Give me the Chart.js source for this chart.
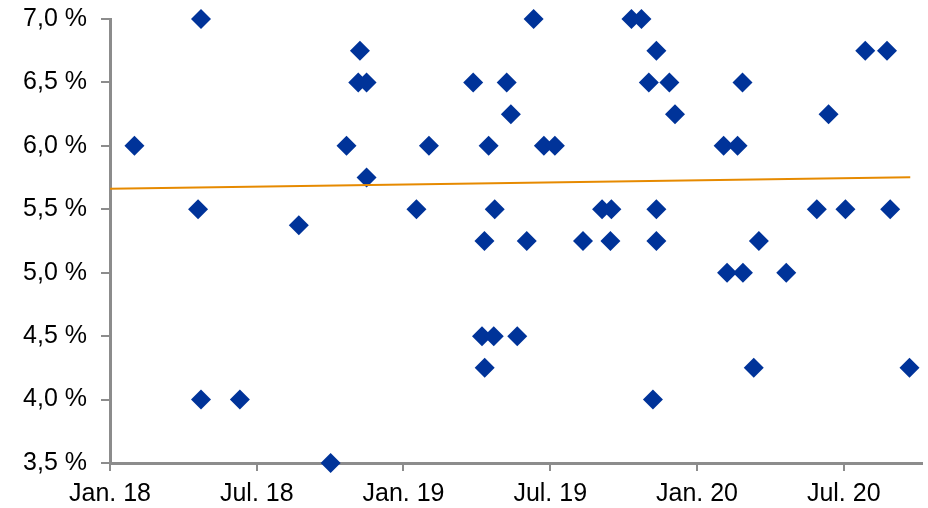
<!DOCTYPE html>
<html>
<head>
<meta charset="utf-8">
<script src="https://cdn.jsdelivr.net/npm/chart.js@4"></script>
<style>
  html, body { margin: 0; padding: 0; background: #ffffff; }
  #wrap { width: 928px; height: 508px; position: relative; }
</style>
</head>
<body>
<div id="wrap"><canvas id="chart" width="928" height="508"></canvas></div>
<script>
// x values are months since January 2018 (0 = Jan. 18, 6 = Jul. 18, ...)
const obsMonths = [
  1.0, 3.72, 3.60, 3.72, 5.31, 7.72, 9.02, 9.67, 10.22, 10.15,
  10.49, 10.49, 12.53, 13.04, 14.85, 15.31, 15.21, 15.32, 15.48, 15.69,
  15.73, 16.22, 16.39, 16.65, 17.04, 17.32, 17.74, 18.19, 19.34, 20.12,
  20.50, 20.46, 21.32, 21.73, 22.03, 22.34, 22.20, 22.34, 22.34, 22.87,
  23.10, 25.09, 25.23, 25.66, 25.86, 25.88, 26.32, 26.53, 27.65, 28.90,
  29.38, 30.07, 30.88, 31.77, 31.90, 32.69
];
// observed rates in percent
const obsRates = [
  6.00, 7.00, 5.50, 4.00, 4.00, 5.375, 3.50, 6.00, 6.75, 6.50,
  6.50, 5.75, 5.50, 6.00, 6.50, 5.25, 4.50, 4.25, 6.00, 4.50,
  5.50, 6.50, 6.25, 4.50, 5.25, 7.00, 6.00, 6.00, 5.25, 5.50,
  5.50, 5.25, 7.00, 7.00, 6.50, 6.75, 4.00, 5.50, 5.25, 6.50,
  6.25, 6.00, 5.00, 6.00, 6.50, 5.00, 4.25, 5.25, 5.00, 5.50,
  6.25, 5.50, 6.75, 6.75, 5.50, 4.25
];
// linear trend, start and end
const trendMonths = [0, 32.72];
const trendRates = [5.662, 5.752];

const xTickMonths = [0, 6, 12, 18, 24, 30];
const xTickLabels = ['Jan. 18', 'Jul. 18', 'Jan. 19', 'Jul. 19', 'Jan. 20', 'Jul. 20'];
const yTickValues = [3.5, 4.0, 4.5, 5.0, 5.5, 6.0, 6.5, 7.0];

const axisGrey = '#8c8c8c';
const labelFont = { family: "'Liberation Sans', Arial, sans-serif", size: 25 };

// keep the plot area fixed: no extra room reserved for overhanging labels
function clearPadding(scale) {
  scale.paddingTop = 0;
  scale.paddingBottom = 0;
  scale.paddingLeft = 0;
  scale.paddingRight = 0;
}

new Chart(document.getElementById('chart'), {
  type: 'scatter',
  data: {
    datasets: [
      {
        type: 'line',
        data: trendMonths.map((m, i) => ({ x: m, y: trendRates[i] })),
        borderColor: '#e68a00',
        borderWidth: 2,
        pointRadius: 0,
        fill: false,
        clip: false,
        order: 0
      },
      {
        data: obsMonths.map((m, i) => ({ x: m, y: obsRates[i] })),
        pointStyle: 'rectRot',
        pointRadius: 10,
        pointBackgroundColor: '#003399',
        pointBorderColor: '#003399',
        pointBorderWidth: 0,
        clip: false,
        order: 1
      }
    ]
  },
  options: {
    responsive: false,
    animation: false,
    events: [],
    layout: { autoPadding: false, padding: { top: 19, right: 6, left: 0, bottom: 0 } },
    plugins: { legend: { display: false }, tooltip: { enabled: false } },
    scales: {
      x: {
        type: 'linear',
        min: 0,
        max: 33.2,
        afterBuildTicks: (scale) => { scale.ticks = xTickMonths.map(v => ({ value: v })); },
        afterFit: (scale) => { scale.height = 45; clearPadding(scale); },
        ticks: {
          autoSkip: false,
          maxRotation: 0,
          padding: 8,
          color: '#000000',
          font: labelFont,
          callback: (v) => xTickLabels[xTickMonths.indexOf(v)]
        },
        grid: { drawOnChartArea: false, drawTicks: true, tickLength: 8, color: axisGrey, lineWidth: 2 },
        border: { color: axisGrey, width: 3 }
      },
      y: {
        type: 'linear',
        min: 3.5,
        max: 7.0,
        afterBuildTicks: (scale) => { scale.ticks = yTickValues.map(v => ({ value: v })); },
        afterFit: (scale) => { scale.width = 110; clearPadding(scale); },
        ticks: {
          padding: 14,
          color: '#000000',
          font: labelFont,
          callback: (v) => v.toFixed(1).replace('.', ',') + ' %'
        },
        grid: { drawOnChartArea: false, drawTicks: true, tickLength: 9, color: axisGrey, lineWidth: 2 },
        border: { color: axisGrey, width: 3 }
      }
    }
  }
});
</script>
</body>
</html>
